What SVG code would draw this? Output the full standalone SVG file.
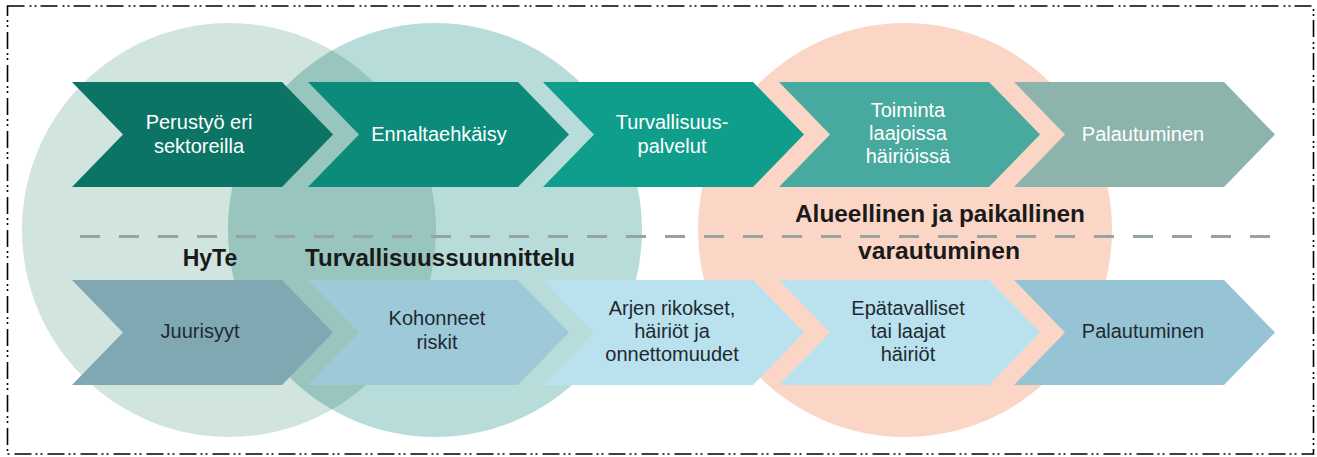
<svg xmlns="http://www.w3.org/2000/svg" xmlns:xlink="http://www.w3.org/1999/xlink" width="1317" height="457" viewBox="0 0 1317 457">
  <defs>
    <path id="chev" d="M0,0 H210 L261,52.5 L210,105 H0 L51,52.5 Z"/>
    <clipPath id="clipHyte">
      <circle cx="229" cy="230" r="207"/>
    </clipPath>
    <style>
      .lbl { font-family: "Liberation Sans", Arial, sans-serif; font-size: 20px; text-anchor: middle; }
      .top { fill: #ffffff; }
      .bot { fill: #1e2a31; }
      .head { font-family: "Liberation Sans", Arial, sans-serif; font-size: 23px; font-weight: bold; fill: #1a1a1a; text-anchor: middle; }
      .frame { fill: none; stroke: #000; stroke-width: 1.6; stroke-dasharray: 17 5 2 3 2 4; }
      .sep { fill: none; stroke: #97a3a0; stroke-width: 3; stroke-dasharray: 20 19; }
    </style>
  </defs>
  <rect width="1317" height="457" fill="#ffffff"/>
  <rect class="frame" x="7.5" y="6" width="1306" height="448"/>

  <g id="circles">
    <g id="circle-hyte"><circle cx="229" cy="230" r="207" fill="#d1e4dd"/></g>
    <g id="circle-turvallisuus"><circle cx="435" cy="230" r="207" fill="#b8dcd9"/></g>
    <g id="circle-overlap"><circle cx="435" cy="230" r="207" fill="#98c5bd" clip-path="url(#clipHyte)"/></g>
    <g id="circle-alueellinen"><circle cx="905" cy="230" r="207" fill="#fbd6c6"/></g>
  </g>

  <g id="separator">
    <line class="sep" x1="80" y1="236.5" x2="1270" y2="236.5"/>
  </g>

  <g id="connectors"></g>

  <g id="top-row">
    <g id="top-1">
      <use xlink:href="#chev" x="72" y="82" fill="#0b7464"/>
      <text class="lbl top" x="199" y="129">Perustyö eri</text>
      <text class="lbl top" x="199" y="153">sektoreilla</text>
    </g>
    <g id="top-2">
      <use xlink:href="#chev" x="308" y="82" fill="#0d8b7a"/>
      <text class="lbl top" x="439" y="141">Ennaltaehkäisy</text>
    </g>
    <g id="top-3">
      <use xlink:href="#chev" x="543" y="82" fill="#0f9d8c"/>
      <text class="lbl top" x="672" y="129">Turvallisuus-</text>
      <text class="lbl top" x="672" y="153">palvelut</text>
    </g>
    <g id="top-4">
      <use xlink:href="#chev" x="779" y="82" fill="#48a99e"/>
      <text class="lbl top" x="908" y="117">Toiminta</text>
      <text class="lbl top" x="908" y="140">laajoissa</text>
      <text class="lbl top" x="908" y="163">häiriöissä</text>
    </g>
    <g id="top-5">
      <use xlink:href="#chev" x="1014" y="82" fill="#8cb4ac"/>
      <text class="lbl top" x="1143" y="141">Palautuminen</text>
    </g>
  </g>

  <g id="bottom-row">
    <g id="bot-1">
      <use xlink:href="#chev" x="72" y="280" fill="#7fa8b3"/>
      <text class="lbl bot" x="200" y="338">Juurisyyt</text>
    </g>
    <g id="bot-2">
      <use xlink:href="#chev" x="308" y="280" fill="#9dc9d8"/>
      <text class="lbl bot" x="437" y="325">Kohonneet</text>
      <text class="lbl bot" x="437" y="349">riskit</text>
    </g>
    <g id="bot-3">
      <use xlink:href="#chev" x="543" y="280" fill="#bae1ee"/>
      <text class="lbl bot" x="672" y="315">Arjen rikokset,</text>
      <text class="lbl bot" x="672" y="338">häiriöt ja</text>
      <text class="lbl bot" x="672" y="361">onnettomuudet</text>
    </g>
    <g id="bot-4">
      <use xlink:href="#chev" x="779" y="280" fill="#bae1ee"/>
      <text class="lbl bot" x="908" y="315">Epätavalliset</text>
      <text class="lbl bot" x="908" y="338">tai laajat</text>
      <text class="lbl bot" x="908" y="361">häiriöt</text>
    </g>
    <g id="bot-5">
      <use xlink:href="#chev" x="1014" y="280" fill="#96c4d5"/>
      <text class="lbl bot" x="1143" y="338">Palautuminen</text>
    </g>
  </g>

  <g id="circle-labels">
    <text id="label-hyte" class="head" x="210" y="266">HyTe</text>
    <text id="label-turvallisuus" class="head" x="440" y="266" textLength="270" lengthAdjust="spacingAndGlyphs">Turvallisuussuunnittelu</text>
    <text id="label-alueellinen-1" class="head" x="940" y="222" textLength="290" lengthAdjust="spacingAndGlyphs">Alueellinen ja paikallinen</text>
    <text id="label-alueellinen-2" class="head" x="939" y="259" textLength="162" lengthAdjust="spacingAndGlyphs">varautuminen</text>
  </g>
</svg>
